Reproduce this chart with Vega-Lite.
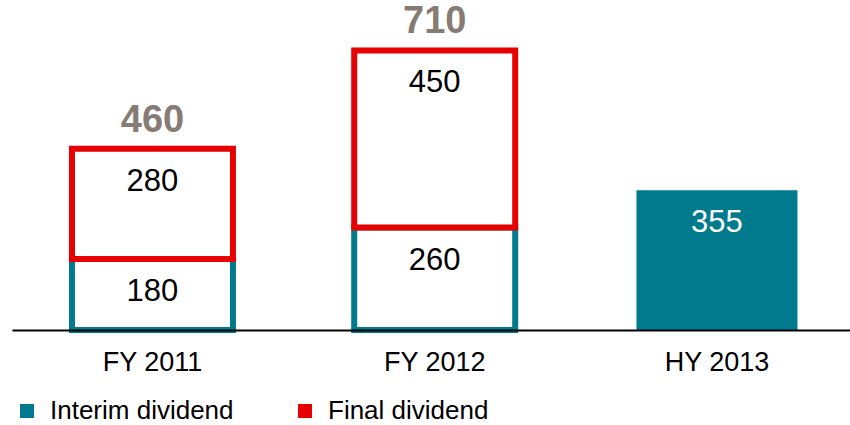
{
  "$schema": "https://vega.github.io/schema/vega-lite/v6.json",
  "width": 838,
  "height": 330,
  "autosize": "none",
  "padding": {"left": 12, "top": 0, "right": 0, "bottom": 95},
  "background": "white",
  "config": {
    "view": {"stroke": null},
    "font": "Liberation Sans"
  },
  "datasets": {
    "dividends": [
      {"period": "FY 2011", "type": "Interim dividend", "value": 180},
      {"period": "FY 2012", "type": "Interim dividend", "value": 260},
      {"period": "HY 2013", "type": "Interim dividend", "value": 355},
      {"period": "FY 2011", "type": "Final dividend", "value": 280},
      {"period": "FY 2012", "type": "Final dividend", "value": 450}
    ],
    "totals": [
      {"period": "FY 2011", "total": 460},
      {"period": "FY 2012", "total": 710}
    ]
  },
  "encoding": {
    "x": {
      "field": "period",
      "type": "nominal",
      "sort": ["FY 2011", "FY 2012", "HY 2013"],
      "scale": {"paddingInner": 0.4296, "paddingOuter": 0.1993, "align": 0.533},
      "axis": {
        "title": null,
        "labelAngle": 0,
        "ticks": false,
        "tickSize": 0,
        "grid": false,
        "domain": true,
        "domainColor": "#000000",
        "domainWidth": 2,
        "labelFont": "Liberation Sans",
        "labelFontSize": 27,
        "labelColor": "#000000",
        "labelPadding": 32,
        "labelBaseline": "middle",
        "zindex": 1
      }
    }
  },
  "layer": [
    {
      "data": {"name": "dividends"},
      "transform": [
        {"stack": "value", "groupby": ["period"], "sort": [{"field": "type", "order": "descending"}], "as": ["v0", "v1"]}
      ],
      "mark": {"type": "bar"},
      "encoding": {
        "y": {"field": "v0", "type": "quantitative", "scale": {"domain": [0, 838], "nice": false, "zero": true}, "axis": null},
        "y2": {"field": "v1"},
        "fill": {
          "condition": {"test": "datum.period !== 'HY 2013'", "value": "white"},
          "field": "type",
          "type": "nominal",
          "scale": {"domain": ["Interim dividend", "Final dividend"], "range": ["#007A8C", "#E60000"]},
          "legend": {
            "title": null,
            "orient": "none",
            "legendX": 2,
            "legendY": 398,
            "direction": "horizontal",
            "padding": 0,
            "symbolType": "square",
            "symbolSize": 196,
            "symbolStrokeWidth": 0,
            "labelFont": "Liberation Sans",
            "labelFontSize": 26,
            "labelColor": "#000000",
            "labelOffset": 10,
            "labelLimit": 400,
            "columnPadding": 58
          }
        },
        "stroke": {
          "field": "type",
          "type": "nominal",
          "scale": {"domain": ["Interim dividend", "Final dividend"], "range": ["#007A8C", "#E60000"]},
          "legend": null
        },
        "strokeWidth": {"condition": {"test": "datum.period === 'HY 2013'", "value": 0}, "value": 6}
      }
    },
    {
      "data": {"name": "dividends"},
      "transform": [
        {"stack": "value", "groupby": ["period"], "sort": [{"field": "type", "order": "descending"}], "as": ["v0", "v1"]}
      ],
      "mark": {"type": "text", "baseline": "middle", "align": "center", "dy": 33, "fontSize": 31, "font": "Liberation Sans"},
      "encoding": {
        "y": {"field": "v1", "type": "quantitative", "scale": {"domain": [0, 838], "nice": false}, "axis": null},
        "text": {"field": "value", "type": "quantitative"},
        "color": {"condition": {"test": "datum.period === 'HY 2013'", "value": "#FFFFFF"}, "value": "#000000"}
      }
    },
    {
      "data": {"name": "totals"},
      "mark": {"type": "text", "baseline": "middle", "align": "center", "dy": -28, "fontSize": 38, "fontWeight": "bold", "font": "Liberation Sans", "color": "#867C75"},
      "encoding": {
        "y": {"field": "total", "type": "quantitative", "scale": {"domain": [0, 838], "nice": false}, "axis": null},
        "text": {"field": "total", "type": "quantitative"}
      }
    }
  ]
}
